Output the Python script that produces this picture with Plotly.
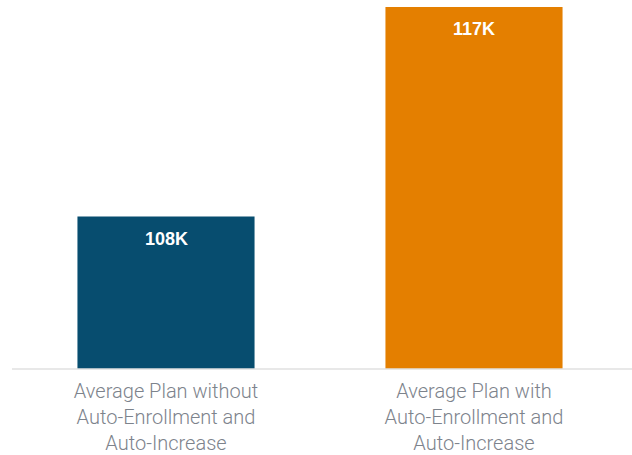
import plotly.graph_objects as go

categories = ["Average Plan without<br>Auto-Enrollment and<br>Auto-Increase",
              "Average Plan with<br>Auto-Enrollment and<br>Auto-Increase"]
values = [108, 117]
colors = ["#074d6f", "#e47f00"]

fig = go.Figure()
fig.add_trace(go.Bar(x=categories, y=values, marker=dict(color=colors, line=dict(width=0)),
                     width=0.575, hoverinfo="skip"))

for c, v in zip(categories, values):
    fig.add_annotation(x=c, y=v, text=f"<b>{v}K</b>", showarrow=False, yshift=-22,
                       font=dict(family="Liberation Sans, Arial, sans-serif", size=18, color="white"))

fig.add_shape(type="line", xref="paper", yref="paper", x0=0, x1=1.01, y0=0, y1=0,
              line=dict(color="#e0e0e0", width=1.5), layer="above")

fig.update_layout(
    width=632, height=455,
    margin=dict(l=12, r=4, t=0, b=86),
    plot_bgcolor="white", paper_bgcolor="white",
    showlegend=False,
    xaxis=dict(showline=False, ticks="", ticklabelstandoff=8,
               tickfont=dict(family="Roboto, Liberation Sans, Arial, sans-serif",
                             size=20, weight=300, color="#7d838c")),
    yaxis=dict(range=[101.45, 117.3], visible=False, showgrid=False),
)
fig.write_html("out.html")
